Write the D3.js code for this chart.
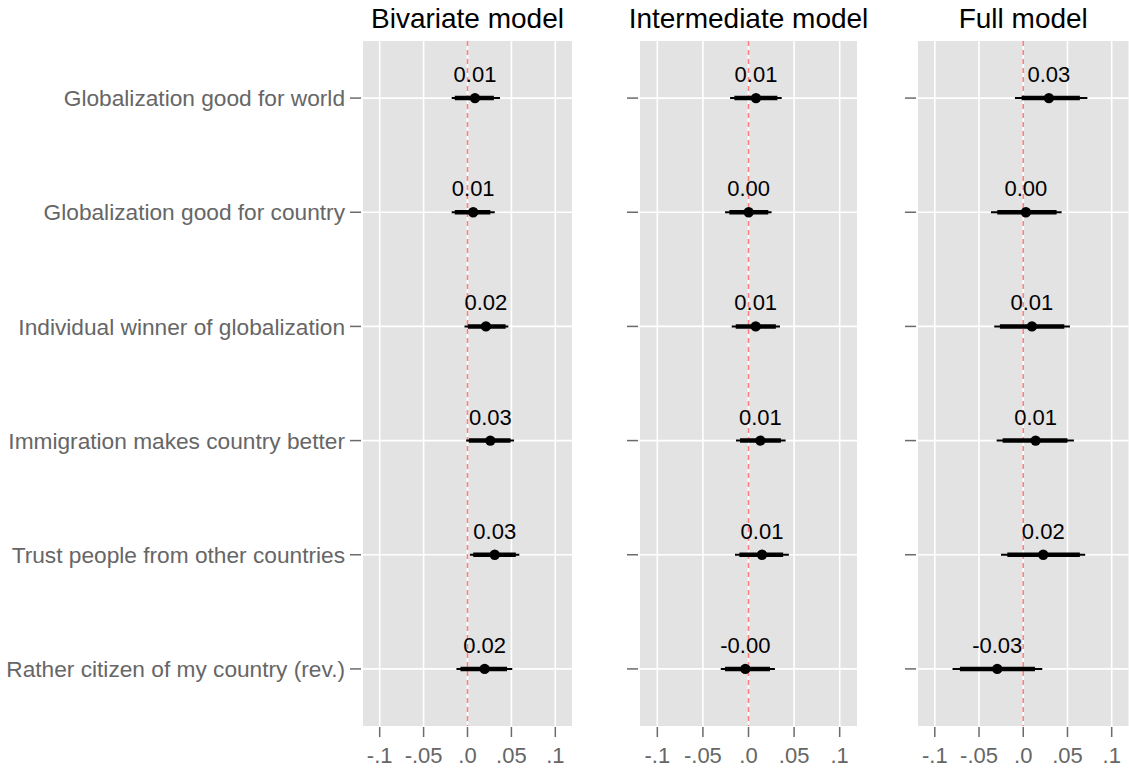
<!DOCTYPE html>
<html>
<head>
<meta charset="utf-8">
<script src="https://cdn.jsdelivr.net/npm/d3@7"></script>
<style>
  html, body { margin: 0; padding: 0; background: #fff; }
  svg { display: block; }
  text { font-family: "Liberation Sans", Arial, Helvetica, sans-serif; }
</style>
</head>
<body>
<svg id="chart" width="1129" height="770"></svg>
<script>
const categories = [
  "Globalization good for world",
  "Globalization good for country",
  "Individual winner of globalization",
  "Immigration makes country better",
  "Trust people from other countries",
  "Rather citizen of my country (rev.)"
];
const models = ["Bivariate model", "Intermediate model", "Full model"];
const xTicks = [-0.1, -0.05, 0, 0.05, 0.1];
const xTickLabels = ["-.1", "-.05", ".0", ".05", ".1"];

// point estimates
const estBivariate    = [0.0085, 0.0065, 0.021, 0.026, 0.031, 0.0195];
const estIntermediate = [0.0082, 0.0002, 0.0079, 0.013, 0.0148, -0.0035];
const estFull         = [0.029, 0.003, 0.0098, 0.014, 0.0226, -0.0294];
// inner (thick) interval
const innerLoBivariate    = [-0.0145, -0.0145, 0.0004, 0.0015, 0.0065, -0.008];
const innerHiBivariate    = [0.030, 0.026, 0.0434, 0.049, 0.055, 0.045];
const innerLoIntermediate = [-0.0155, -0.021, -0.014, -0.0093, -0.010, -0.0257];
const innerHiIntermediate = [0.0317, 0.0217, 0.030, 0.0355, 0.038, 0.0235];
const innerLoFull         = [-0.0018, -0.0294, -0.0264, -0.0233, -0.018, -0.0716];
const innerHiFull         = [0.064, 0.0377, 0.0464, 0.050, 0.064, 0.0132];
// outer (thin) interval
const outerLoBivariate    = [-0.018, -0.018, -0.0034, -0.0015, 0.0027, -0.0126];
const outerHiBivariate    = [0.037, 0.031, 0.0465, 0.053, 0.059, 0.051];
const outerLoIntermediate = [-0.0202, -0.0257, -0.0184, -0.0137, -0.0148, -0.0304];
const outerHiIntermediate = [0.0364, 0.0253, 0.0345, 0.0407, 0.0443, 0.029];
const outerLoFull         = [-0.0094, -0.0365, -0.0328, -0.0301, -0.0252, -0.080];
const outerHiFull         = [0.0725, 0.0434, 0.0528, 0.0573, 0.070, 0.0215];

const panelsData = [
  {est: estBivariate, iLo: innerLoBivariate, iHi: innerHiBivariate, oLo: outerLoBivariate, oHi: outerHiBivariate},
  {est: estIntermediate, iLo: innerLoIntermediate, iHi: innerHiIntermediate, oLo: outerLoIntermediate, oHi: outerHiIntermediate},
  {est: estFull, iLo: innerLoFull, iHi: innerHiFull, oLo: outerLoFull, oHi: outerHiFull}
];

const svg = d3.select("#chart");
const panelTop = 41, panelBottom = 726;
const panelX = [[363, 572], [640, 857], [918, 1128.5]];
const domainX = [-0.119, 0.119];

const y = d3.scalePoint().domain(categories).range([panelTop, panelBottom]).padding(0.5);

panelsData.forEach((pd, pi) => {
  const [x0, x1] = panelX[pi];
  const x = d3.scaleLinear().domain(domainX).range([x0, x1]);
  const g = svg.append("g");

  // background
  g.append("rect").attr("x", x0).attr("y", panelTop).attr("width", x1 - x0).attr("height", panelBottom - panelTop)
    .attr("fill", "#e3e3e3");

  // grid
  g.selectAll(".vg").data(xTicks).enter().append("line")
    .attr("x1", d => x(d)).attr("x2", d => x(d)).attr("y1", panelTop).attr("y2", panelBottom)
    .attr("stroke", "#fff").attr("stroke-width", 1.6);
  g.selectAll(".hg").data(categories).enter().append("line")
    .attr("x1", x0).attr("x2", x1).attr("y1", d => y(d)).attr("y2", d => y(d))
    .attr("stroke", "#fff").attr("stroke-width", 1.6);

  // x axis ticks and labels
  g.selectAll(".xt").data(xTicks).enter().append("line")
    .attr("x1", d => x(d)).attr("x2", d => x(d)).attr("y1", panelBottom + 1).attr("y2", panelBottom + 11)
    .attr("stroke", "#6b6b6b").attr("stroke-width", 1.5);
  g.selectAll(".xl").data(xTicks).enter().append("text")
    .attr("x", d => x(d)).attr("y", panelBottom + 37)
    .attr("text-anchor", "middle").attr("font-size", 22).attr("fill", "#666")
    .text((d, i) => xTickLabels[i]);

  // y ticks
  g.selectAll(".yt").data(categories).enter().append("line")
    .attr("x1", x0 - 13).attr("x2", x0 - 2).attr("y1", d => y(d)).attr("y2", d => y(d))
    .attr("stroke", "#6b6b6b").attr("stroke-width", 1.5);
  if (pi === 0) {
    g.selectAll(".yl").data(categories).enter().append("text")
      .attr("x", x0 - 18).attr("y", d => y(d) + 8.2)
      .attr("text-anchor", "end").attr("font-size", 22.7).attr("fill", "#666")
      .text(d => d);
  }

  // zero reference line
  g.append("line").attr("x1", x(0)).attr("x2", x(0)).attr("y1", panelTop).attr("y2", panelBottom)
    .attr("stroke", "#ff7f7f").attr("stroke-width", 1.6).attr("stroke-dasharray", "5,4");

  // intervals
  g.selectAll(".outer").data(categories).enter().append("line")
    .attr("x1", (d, i) => x(pd.oLo[i])).attr("x2", (d, i) => x(pd.oHi[i]))
    .attr("y1", d => y(d)).attr("y2", d => y(d))
    .attr("stroke", "#000").attr("stroke-width", 2);
  g.selectAll(".inner").data(categories).enter().append("line")
    .attr("x1", (d, i) => x(pd.iLo[i])).attr("x2", (d, i) => x(pd.iHi[i]))
    .attr("y1", d => y(d)).attr("y2", d => y(d))
    .attr("stroke", "#000").attr("stroke-width", 4.5);
  g.selectAll(".pt").data(categories).enter().append("circle")
    .attr("cx", (d, i) => x(pd.est[i])).attr("cy", d => y(d)).attr("r", 5.2)
    .attr("fill", "#000");

  // value labels
  g.selectAll(".vl").data(categories).enter().append("text")
    .attr("x", (d, i) => x(pd.est[i])).attr("y", d => y(d) - 16)
    .attr("text-anchor", "middle").attr("font-size", 22).attr("fill", "#000")
    .text((d, i) => pd.est[i].toFixed(2));

  // title
  g.append("text").attr("x", (x0 + x1) / 2).attr("y", 28)
    .attr("text-anchor", "middle").attr("font-size", 28).attr("fill", "#000")
    .text(models[pi]);
});
</script>
</body>
</html>
